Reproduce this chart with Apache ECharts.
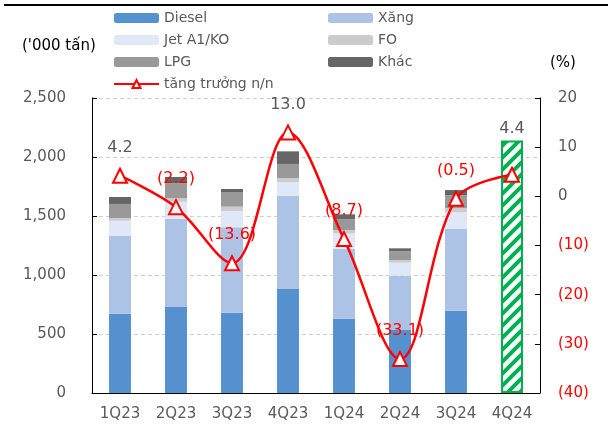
<!DOCTYPE html>
<html>
<head>
<meta charset="utf-8">
<script src="https://cdn.jsdelivr.net/npm/echarts@6/dist/echarts.min.js"></script>
<style>
  html, body { margin: 0; padding: 0; background: #fff; }
  #chart { width: 608px; height: 434px; }
</style>
</head>
<body>
<div id="chart"></div>
<script>
// Quarterly volumes ('000 tonnes) by product, plus y/y growth (%)
const quarters = ['1Q23', '2Q23', '3Q23', '4Q23', '1Q24', '2Q24', '3Q24', '4Q24'];
const diesel = [672, 729, 681, 881, 630, 534, 698, '-'];
const xang   = [659, 748, 723, 789, 590, 460, 692, '-'];
const jet    = [129, 144, 138, 116, 133, 110, 141, '-'];
const fo     = [23, 29, 37, 34, 28, 23, 37, '-'];
const lpg    = [119, 127, 124, 121, 91, 74, 107, '-'];
const khac   = [59, 54, 26, 107, 42, 25, 45, '-'];
const totalEstimate = ['-', '-', '-', '-', '-', '-', '-', 2140];
const growth = [4.2, -2.2, -13.6, 13.0, -8.7, -33.1, -0.5, 4.4];

const leftTicks = { min: 0, max: 2500, interval: 500 };
const rightTicks = { min: -40, max: 20, interval: 10 };

const FONT = 'DejaVu Sans';
const GREY = '#595959';
const RED = '#FF0000';
const GREEN = '#00B050';

// diagonal green hatch for the estimated quarter
function hatchPattern() {
  const c = document.createElement('canvas');
  const s = 12;
  c.width = s; c.height = s;
  const g = c.getContext('2d');
  g.fillStyle = '#fff';
  g.fillRect(0, 0, s, s);
  g.strokeStyle = GREEN;
  g.lineWidth = 4;
  g.beginPath();
  for (let k = -1; k <= 1; k++) {
    g.moveTo(k * s - 2, s + 2);
    g.lineTo(k * s + s + 2, -2);
  }
  g.stroke();
  return c;
}

const chart = echarts.init(document.getElementById('chart'), null, { renderer: 'canvas' });

function stackSeries(name, data, color) {
  return {
    name, type: 'bar', stack: 'vol', data,
    barWidth: 22,
    itemStyle: { color },
    emphasis: { disabled: true }
  };
}

const growthData = growth.map((v, i) => (i === quarters.length - 1
  ? { value: v, label: { distance: 30 } }
  : v));

const legendText = { fontFamily: FONT, fontSize: 14, color: GREY, lineHeight: 16 };

const option = {
  animation: false,
  textStyle: { fontFamily: FONT },
  grid: { left: 92, right: 68, top: 98, bottom: 41 },
  legend: [
    {
      data: ['Diesel', 'Jet A1/KO', 'LPG', 'tăng trưởng n/n'],
      orient: 'vertical', left: 113, top: 10, padding: 0,
      itemWidth: 45, itemHeight: 10, itemGap: 6,
      textStyle: legendText
    },
    {
      data: ['Xăng', 'FO', 'Khác'],
      orient: 'vertical', left: 328, top: 10, padding: 0,
      itemWidth: 45, itemHeight: 10, itemGap: 6,
      textStyle: legendText
    }
  ],
  xAxis: {
    type: 'category',
    data: quarters,
    axisLine: { lineStyle: { color: '#000', width: 1 } },
    axisTick: { inside: true, length: 5, lineStyle: { color: '#000' } },
    axisLabel: { fontFamily: FONT, fontSize: 15, color: GREY, margin: 14 }
  },
  yAxis: [
    {
      type: 'value', ...leftTicks,
      axisLine: { show: true, lineStyle: { color: '#000' } },
      axisTick: { show: true, inside: true, length: 5, lineStyle: { color: '#000' } },
      axisLabel: { fontFamily: FONT, fontSize: 15, color: GREY, margin: 26 },
      splitLine: { show: true, lineStyle: { color: '#d0d0d0', type: [4, 3] } }
    },
    {
      type: 'value', ...rightTicks,
      position: 'right',
      axisLine: { show: true, lineStyle: { color: '#000' } },
      axisTick: { show: true, inside: true, length: 5, lineStyle: { color: '#000' } },
      axisLabel: {
        fontFamily: FONT, fontSize: 15, margin: 18,
        formatter: v => (v < 0 ? '(' + Math.abs(v) + ')' : String(v)),
        color: v => (Number(v) < 0 ? RED : GREY)
      },
      splitLine: { show: false }
    }
  ],
  series: [
    stackSeries('Diesel', diesel, '#5591CE'),
    stackSeries('Xăng', xang, '#ADC3E6'),
    stackSeries('Jet A1/KO', jet, '#E0E8F7'),
    stackSeries('FO', fo, '#CCCCCC'),
    stackSeries('LPG', lpg, '#999999'),
    stackSeries('Khác', khac, '#666666'),
    {
      name: 'Ước tính', type: 'bar', data: totalEstimate,
      barWidth: 22, barGap: '-100%',
      itemStyle: {
        color: { image: hatchPattern(), repeat: 'repeat' },
        borderColor: GREEN, borderWidth: 2
      },
      emphasis: { disabled: true }
    },
    {
      name: 'tăng trưởng n/n', type: 'line', yAxisIndex: 1,
      data: growthData,
      smooth: 0.35,
      z: 10,
      symbol: 'triangle', symbolSize: 14,
      lineStyle: { color: RED, width: 2.5 },
      itemStyle: { color: '#fff', borderColor: RED, borderWidth: 2 },
      label: {
        show: true, position: 'top', distance: 12,
        fontFamily: FONT, fontSize: 16,
        formatter: p => {
          const v = p.value;
          return v < 0 ? '{n|(' + Math.abs(v).toFixed(1) + ')}' : '{p|' + v.toFixed(1) + '}';
        },
        rich: {
          n: { color: RED, fontFamily: FONT, fontSize: 16 },
          p: { color: GREY, fontFamily: FONT, fontSize: 16 }
        }
      },
      emphasis: { disabled: true }
    }
  ],
  graphic: [
    { type: 'line', shape: { x1: 4, y1: 5, x2: 608, y2: 5 }, style: { stroke: '#000', lineWidth: 2 } },
    { type: 'text', left: 22, top: 39, style: { text: "('000 tấn)", fontFamily: FONT, fontSize: 15, fill: '#000' } },
    { type: 'text', left: 550, top: 56, style: { text: '(%)', fontFamily: FONT, fontSize: 15, fill: '#000' } }
  ]
};

chart.setOption(option);
</script>
</body>
</html>
